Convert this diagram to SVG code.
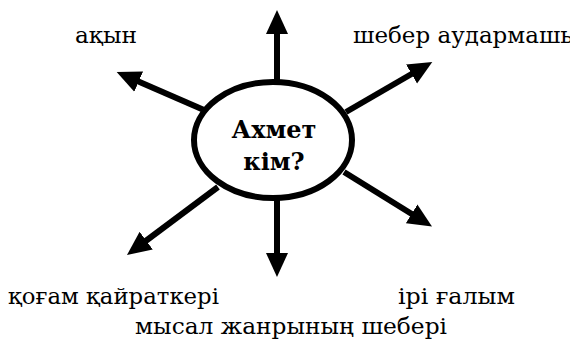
<svg xmlns="http://www.w3.org/2000/svg" width="570" height="344" viewBox="0 0 570 344">
<style>
.ar{stroke:#000;stroke-width:6;fill:none;marker-end:url(#ah)}
.lbl{font-family:"DejaVu Serif",serif;font-size:23px;fill:#000}
.ctr{font-family:"DejaVu Serif",serif;font-size:24px;font-weight:bold;fill:#000;text-anchor:middle}
</style>
<defs>
<marker id="ah" markerUnits="userSpaceOnUse" markerWidth="24" markerHeight="24" viewBox="0 0 24 24" refX="4" refY="12" orient="auto">
<path d="M0,1 L24,12 L0,23 Z" fill="#000"/>
</marker>
</defs>
<rect width="570" height="344" fill="#fff"/>
<g id="connectors">
<line class="ar" x1="277" y1="82" x2="277" y2="30"/>
<line class="ar" x1="277" y1="198" x2="277" y2="257"/>
<line class="ar" x1="204" y1="110" x2="135" y2="80"/>
<line class="ar" x1="346" y1="112" x2="415" y2="72"/>
<line class="ar" x1="218" y1="187" x2="143" y2="243"/>
<line class="ar" x1="344" y1="172" x2="415" y2="216"/>
</g>
<g id="center">
<ellipse cx="273" cy="140" rx="79" ry="58" fill="#fff" stroke="#000" stroke-width="6"/>
<text class="ctr" x="274" y="138">Ахмет</text>
<text class="ctr" x="274" y="170">кім?</text>
</g>
<g id="n1"><text class="lbl" x="75" y="43" textLength="62" lengthAdjust="spacingAndGlyphs">ақын</text></g>
<g id="n2"><text class="lbl" x="353" y="43">шебер аудармашы</text></g>
<g id="n3"><text class="lbl" x="8" y="304" textLength="211" lengthAdjust="spacingAndGlyphs">қоғам қайраткері</text></g>
<g id="n4"><text class="lbl" x="398" y="304" textLength="117" lengthAdjust="spacingAndGlyphs">ірі ғалым</text></g>
<g id="n5"><text class="lbl" x="135" y="334" textLength="312" lengthAdjust="spacingAndGlyphs">мысал жанрының шебері</text></g>
</svg>
